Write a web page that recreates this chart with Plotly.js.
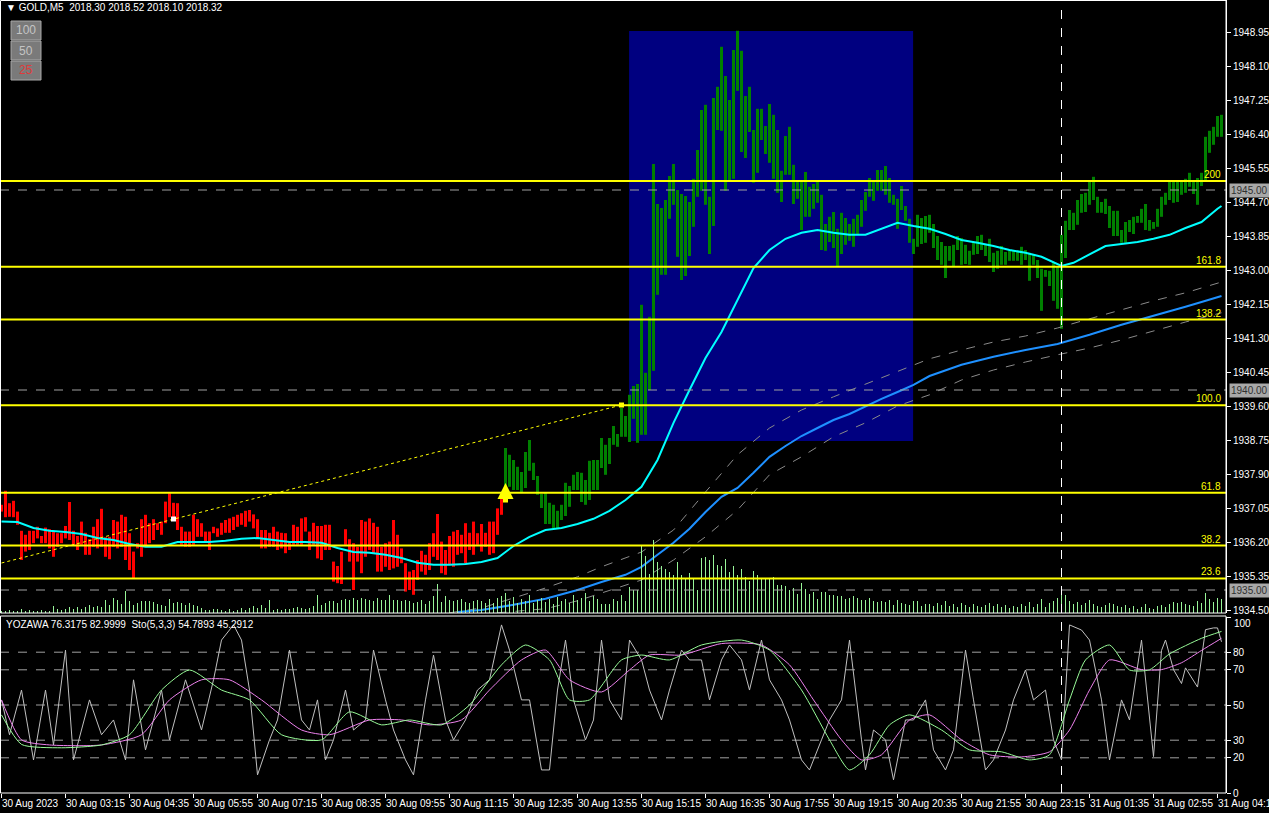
<!DOCTYPE html>
<html><head><meta charset="utf-8">
<script src="https://cdn.plot.ly/plotly-3.0.1.min.js"></script>
<style>html,body{margin:0;padding:0;background:#000;overflow:hidden}#chart{width:1269px;height:813px}</style>
</head><body><div id="chart"></div>
<script>
// ---------------- DATA ----------------
const timeTickIdx = [0,16,32,48,64,80,96,112,128,144,160,176,192,208,224,240,256,272,288,304];
const timeTickText = ["30 Aug 2023","30 Aug 03:15","30 Aug 04:35","30 Aug 05:55","30 Aug 07:15","30 Aug 08:35","30 Aug 09:55","30 Aug 11:15","30 Aug 12:35","30 Aug 13:55","30 Aug 15:15","30 Aug 16:35","30 Aug 17:55","30 Aug 19:15","30 Aug 20:35","30 Aug 21:55","30 Aug 23:15","31 Aug 01:35","31 Aug 02:55","31 Aug 04:15"];

const barHigh = [
1937.13,1937.48,1937.17,1937.23,1936.96,1936.48,1936.38,1936.48,1936.48,1936.58,
1936.35,1936.56,1936.52,1936.46,1936.42,1936.42,1936.60,1937.20,1936.48,1936.35,
1936.71,1936.43,1936.27,1936.58,1936.77,1937.03,1936.32,1936.33,1936.75,1936.71,
1936.88,1936.83,1936.42,1935.96,1936.17,1936.77,1936.88,1936.67,1936.77,1936.67,
1936.71,1937.21,1937.42,1937.18,1937.17,1936.58,1936.46,1936.46,1936.88,1936.77,
1936.67,1936.46,1936.46,1936.58,1936.54,1936.68,1936.75,1936.79,1936.83,1936.88,
1936.92,1936.98,1937.00,1936.89,1936.77,1936.50,1936.50,1936.43,1936.58,1936.46,
1936.43,1936.42,1936.21,1936.63,1936.58,1936.79,1936.82,1936.46,1936.68,1936.60,
1936.60,1936.63,1936.63,1935.71,1935.60,1935.96,1936.52,1936.27,1936.17,1936.08,
1936.75,1936.71,1936.79,1936.68,1936.58,1936.08,1936.17,1936.21,1936.75,1936.38,
1936.04,1935.67,1935.46,1935.50,1935.75,1935.98,1935.88,1936.17,1936.42,1936.90,
1936.21,1936.00,1936.35,1936.46,1936.50,1936.38,1936.67,1936.43,1936.71,1936.42,
1936.65,1936.43,1936.71,1936.71,1937.04,1937.33,
1938.55,1938.38,1938.25,1938.08,1937.95,1938.45,1938.75,1938.18,1937.85,1937.40,
1937.43,1937.18,1937.13,1936.98,1937.13,1937.68,1937.60,1937.88,1937.95,1937.93,
1937.75,1938.23,1938.25,1938.25,1938.80,1938.63,1938.80,1939.10,1938.90,1939.55,
1939.35,1939.88,1940.10,1940.15,1942.13,1940.43,1941.83,1945.65,1944.65,1944.55,
1944.75,1945.35,1945.65,1945.00,1944.90,1944.85,1944.70,1945.28,1946.00,1947.00,
1947.13,1944.83,1947.30,1947.58,1948.58,1947.85,1947.25,1948.50,1948.98,1948.48,
1947.35,1947.58,1946.50,1947.03,1947.03,1946.60,1947.15,1946.88,1946.50,1945.48,
1946.35,1946.58,1945.63,1945.23,1945.23,1945.45,1945.08,1945.15,1945.20,1944.88,
1944.15,1944.33,1944.45,1944.03,1944.43,1944.30,1944.15,1944.28,1944.38,1944.75,
1944.95,1945.30,1945.20,1945.50,1945.50,1945.60,1945.30,1944.88,1944.78,1945.10,
1944.60,1944.28,1943.78,1944.38,1944.30,1944.35,1944.38,1944.15,1943.85,1943.70,
1943.60,1943.60,1943.63,1943.85,1943.80,1943.63,1943.48,1943.70,1943.85,1943.88,
1943.65,1943.78,1943.43,1943.48,1943.60,1943.45,1943.48,1943.50,1943.48,1943.58,
1943.50,1943.43,1943.40,1943.25,1943.03,1943.00,1942.98,1943.20,1943.08,1943.88,
1944.23,1944.50,1944.43,1944.75,1944.90,1944.93,1945.23,1945.33,1944.83,1944.70,
1944.78,1944.60,1944.48,1944.48,1944.00,1944.20,1944.25,1944.33,1944.35,1944.53,
1944.65,1944.25,1944.20,1944.53,1944.83,1944.93,1945.20,1945.20,1945.25,1945.25,
1945.28,1945.43,1945.20,1945.30,1945.43,1946.33,1946.48,1946.58,1946.85,1946.88];

const barLow = [
1936.96,1936.82,1936.83,1936.82,1936.63,1935.75,1935.96,1936.00,1936.17,1936.29,
1936.17,1936.17,1936.04,1935.83,1936.08,1936.17,1936.29,1936.25,1936.13,1936.00,
1936.13,1935.88,1935.88,1936.08,1936.04,1936.08,1935.83,1935.77,1936.08,1936.04,
1936.08,1935.75,1935.50,1935.29,1936.04,1935.83,1936.08,1936.17,1936.25,1936.50,
1936.38,1936.67,1936.82,1936.75,1936.50,1936.13,1936.08,1936.08,1936.13,1936.33,
1936.33,1936.21,1936.00,1936.42,1936.33,1936.38,1936.43,1936.43,1936.50,1936.58,
1936.63,1936.58,1936.71,1936.54,1936.29,1936.04,1936.04,1936.08,1936.08,1936.00,
1936.04,1935.92,1936.00,1936.13,1936.13,1936.13,1936.46,1936.00,1936.13,1935.79,
1935.75,1936.00,1936.00,1935.21,1935.17,1935.15,1936.13,1935.71,1935.00,1935.71,
1935.42,1935.83,1936.00,1935.92,1935.46,1935.46,1935.58,1935.50,1935.54,1935.58,
1935.67,1934.96,1935.00,1934.88,1935.25,1935.46,1935.38,1935.50,1935.83,1935.75,
1935.42,1935.38,1935.63,1935.58,1935.88,1935.92,1935.67,1936.00,1935.88,1936.13,
1935.96,1936.08,1935.88,1935.92,1936.38,1936.88,
1937.58,1937.58,1937.50,1937.50,1937.45,1937.55,1937.98,1937.75,1937.38,1937.05,
1936.65,1936.65,1936.55,1936.55,1936.75,1936.85,1937.08,1937.50,1937.50,1937.20,
1937.13,1937.25,1937.50,1937.50,1938.05,1937.88,1938.15,1938.63,1938.58,1938.83,
1938.83,1938.70,1939.28,1938.68,1938.88,1938.88,1940.00,1940.48,1942.38,1942.88,
1942.88,1944.28,1944.63,1943.33,1942.75,1942.85,1943.35,1944.08,1944.83,1944.98,
1944.63,1943.40,1944.10,1946.50,1946.48,1944.98,1945.25,1945.28,1947.48,1945.95,
1945.80,1946.45,1945.18,1945.43,1946.25,1945.90,1945.68,1945.28,1944.93,1944.70,
1945.38,1945.38,1944.65,1944.78,1944.00,1944.33,1944.33,1944.53,1944.68,1943.50,
1943.48,1943.70,1943.55,1943.08,1943.40,1943.63,1943.73,1943.58,1943.88,1944.08,
1944.48,1944.83,1944.73,1944.98,1944.98,1944.88,1944.68,1944.63,1944.03,1944.50,
1944.23,1943.68,1943.40,1943.58,1943.65,1943.68,1943.93,1943.55,1943.25,1943.13,
1942.80,1943.23,1943.10,1943.50,1943.13,1943.15,1943.13,1943.38,1943.40,1943.50,
1943.35,1943.20,1942.95,1943.03,1943.13,1943.13,1943.23,1943.23,1943.23,1943.13,
1943.25,1942.73,1943.13,1942.80,1941.98,1942.83,1942.60,1942.23,1942.03,1941.53,
1943.30,1944.00,1944.00,1944.13,1944.43,1944.45,1944.63,1944.75,1944.43,1944.43,
1944.40,1944.05,1943.85,1943.85,1943.68,1943.68,1943.95,1943.90,1944.18,1944.18,
1944.00,1943.98,1944.03,1944.08,1944.33,1944.63,1944.75,1944.68,1944.70,1944.88,
1944.93,1945.08,1944.90,1944.63,1945.10,1945.25,1945.93,1946.13,1946.33,1946.33];

const signalIdx = 126;          // buy arrow bar: bars turn green from here
const signalPrice = 1937.675;

const volume = [
2,2,3,2,2,4,2,3,2,2,3,2,2,
7,4,3,4,6,4,6,4,6,8,
6,7,6,13,8,15,13,9,22,12,
8,10,12,12,12,11,9,8,7,14,
10,11,10,8,10,8,7,5,3,3,
4,4,3,2,4,2,3,5,3,5,
7,5,8,5,13,3,4,3,4,4,
5,6,5,4,5,7,18,8,10,12,
12,10,13,14,13,15,13,15,14,13,
12,15,13,13,18,13,13,12,13,12,
10,11,13,9,12,17,29,11,17,13,
12,13,14,11,10,12,13,12,10,14,
10,15,17,
20,12,16,10,14,12,18,10,13,15,
11,14,9,16,12,14,10,18,13,15,
20,12,17,14,
9,9,9,14,12,18,12,26,23,23,
67,57,39,73,51,47,44,41,38,51,
38,34,40,34,23,55,56,53,58,48,
47,54,41,47,38,44,36,32,42,38,
35,35,34,36,28,28,27,23,25,19,
30,24,19,21,14,21,21,18,18,17,
17,14,15,17,15,13,13,15,12,11,
12,11,13,8,13,10,9,8,12,12,
7,9,
9,7,10,8,12,7,9,6,10,8,
6,9,7,6,8,10,7,9,6,8,
5,7,6,9,7,11,6,9,14,6,
10,12,15,22,18,12,9,11,8,10,
13,9,7,6,8,10,9,7,6,8,
5,7,4,6,9,5,4,7,8,6,
9,11,10,11,9,8,7,12,10,20,
14,11,15,14];

const maFastIdx = [0,4,8,12,16,20,24,28,32,36,40,44,48,52,56,60,64,68,72,76,80,84,88,92,96,100,104,108,112,116,120,124,128,132,136,140,144,148,152,156,160,164,168,172,176,180,184,188,192,196,200,204,208,212,216,220,224,228,232,236,240,244,248,252,256,260,264,265,268,272,276,280,284,288,292,296,300,304,305];
const maFast = [1936.71,1936.70,1936.55,1936.48,1936.45,1936.40,1936.30,1936.25,1936.15,1936.08,1936.08,1936.20,1936.20,1936.20,1936.23,1936.28,1936.30,1936.25,1936.20,1936.20,1936.18,1936.05,1935.95,1935.93,1935.88,1935.80,1935.68,1935.63,1935.63,1935.65,1935.70,1935.80,1936.10,1936.33,1936.50,1936.55,1936.65,1936.78,1936.98,1937.25,1937.58,1938.25,1939.18,1940.00,1940.80,1941.45,1942.25,1943.05,1943.50,1943.78,1943.93,1944.00,1943.93,1943.88,1943.88,1944.03,1944.18,1944.10,1944.03,1943.90,1943.75,1943.68,1943.60,1943.50,1943.43,1943.33,1943.15,1943.10,1943.18,1943.40,1943.60,1943.65,1943.70,1943.78,1943.88,1944.05,1944.20,1944.53,1944.60];

const maSlowIdx = [114,120,128,136,144,150,156,160,164,168,172,176,180,184,188,192,196,200,204,208,212,216,220,224,228,232,240,248,256,264,272,280,288,296,300,305];
const maSlow = [1934.45,1934.50,1934.63,1934.78,1935.00,1935.20,1935.38,1935.58,1935.88,1936.18,1936.53,1936.95,1937.33,1937.55,1937.93,1938.33,1938.60,1938.85,1939.05,1939.25,1939.40,1939.60,1939.78,1939.95,1940.13,1940.35,1940.63,1940.83,1941.00,1941.15,1941.38,1941.63,1941.85,1942.08,1942.20,1942.35];

const envUpIdx = [112,120,128,136,144,150,160,168,176,184,192,200,208,216,224,232,240,248,256,264,272,280,288,296,305];
const envUp = [1934.43,1934.55,1934.80,1935.05,1935.33,1935.58,1935.95,1936.50,1937.45,1938.38,1939.05,1939.50,1939.83,1940.15,1940.48,1940.78,1941.00,1941.20,1941.35,1941.55,1941.78,1942.00,1942.23,1942.43,1942.70];
const envDnIdx = [124,136,144,150,160,168,176,184,192,200,208,216,224,232,240,248,256,264,272,280,288,296,305];
const envDn = [1934.43,1934.53,1934.73,1934.93,1935.25,1935.75,1936.33,1937.00,1937.88,1938.33,1938.83,1939.18,1939.60,1939.88,1940.25,1940.50,1940.70,1940.88,1941.05,1941.25,1941.48,1941.70,1941.93];

const fibLabels = ["200","161.8","138.2","100.0","61.8","38.2","23.6"];
const fibPrices = [1945.225,1943.08,1941.76,1939.62,1937.43,1936.11,1935.29];
const roundLevels = [1945.00,1940.00,1935.00];

const trendIdx = [0,43,155];
const trendPrice = [1935.675,1936.775,1939.625];

const boxIdx = [156.9,227.9];
const boxPrice = [1938.725,1948.975];
const crossIdx = 265;

const priceTicks = [1934.50,1935.35,1936.20,1937.05,1937.90,1938.75,1939.60,1940.45,1941.30,1942.15,1943.00,1943.85,1944.70,1945.55,1946.40,1947.25,1948.10,1948.95];
const stochTicks = [0,20,30,50,70,80,100];
const stochLevels = [20,30,50,70,80];

const yozIdx = [0,2,5,8,11,13,16,18,22,25,28,31,33,36,40,42,46,50,53,55,58,60,62,64,67,69,72,75,77,79,81,83,86,88,91,93,96,98,101,103,106,108,111,113,116,119,122,125,127,130,132,135,137,139,141,143,146,148,150,152,155,157,160,162,165,167,170,172,175,177,180,182,185,187,190,192,195,197,200,202,205,207,210,212,215,216,218,221,223,226,228,231,233,236,238,241,243,246,248,251,253,256,258,261,263,265,267,270,272,275,277,280,282,285,288,290,291,293,295,296,299,301,303,304,305];
const yozawa = [52.9,33.1,58.5,18.8,58.5,27.3,81.2,18.8,52.9,33.1,41.5,18.8,64.3,24.5,58.5,30.2,64.3,35.8,64.3,86.9,95.5,86.9,58.5,10.3,30.2,41.5,81.2,41.5,35.8,52.9,18.8,30.2,58.5,35.8,41.5,81.2,52.9,35.8,18.8,10.3,52.9,78.4,41.5,30.2,41.5,58.5,64.3,95.5,81.2,52.9,52.9,13.1,13.1,58.5,86.9,52.9,30.2,41.5,86.9,52.9,41.5,86.9,75.6,58.5,41.5,58.5,81.2,75.6,75.6,52.9,75.6,84.1,75.6,58.5,86.9,64.3,52.9,41.5,18.8,13.1,30.2,41.5,52.9,86.9,30.2,13.1,35.8,30.2,7.5,41.5,41.5,52.9,24.5,13.1,24.5,81.2,52.9,13.1,18.8,35.8,52.9,69.9,52.9,58.5,30.2,18.8,95.5,92.6,86.9,52.9,18.8,52.9,41.5,86.9,20.7,81.0,86.9,70.1,62.2,71.1,60.2,92.8,93.8,93.8,85.9];

const stoKIdx = [0,5,15,25,32,40,47,55,62,70,80,87,95,102,110,117,125,131,137,142,147,155,160,167,175,185,192,200,207,212,217,222,227,235,242,250,257,262,267,271,277,282,287,292,300,305];
const stoK = [44.4,27.6,25.7,27.3,33.1,58.5,69.9,58.5,52.9,33.1,30.2,46.1,38.7,41.5,38.7,50.0,72.8,84.1,75.6,52.9,52.9,75.6,78.4,75.6,84.1,86.9,81.2,58.5,30.2,13.1,21.7,38.7,44.4,35.8,24.5,23.4,18.8,21.7,52.9,75.6,84.1,69.9,70.0,79.0,87.9,91.8];
const stoDIdx = [0,5,12,25,35,42,50,57,65,75,82,92,100,107,115,122,130,136,142,150,157,162,170,180,190,197,203,210,215,220,227,232,240,247,255,262,267,272,277,285,290,295,300,305];
const stoD = [52.9,30.2,27.3,27.3,33.1,52.9,64.3,64.3,52.9,35.8,33.1,41.5,41.5,38.7,41.5,58.5,75.6,81.2,64.3,57.4,69.9,78.4,78.4,84.9,84.1,72.8,52.9,30.2,18.8,21.7,41.5,44.4,30.2,21.7,20.5,23.4,35.8,58.5,75.6,70.1,70.1,74.0,81.0,87.9];

// ---------------- LAYOUT HELPERS ----------------
const W = 1269, H = 813, M = {l:0, r:43, t:0, b:20};
const PW = W - M.l - M.r, PH = H - M.t - M.b;
const px = x => x / PW;
const py = y => 1 - y / PH;
const FONT = 'Liberation Sans, Arial, DejaVu Sans, sans-serif';

const n = barHigh.length;
const idx = Array.from({length:n}, (_, i) => i);
const barColors = idx.map(i => i < signalIdx ? '#ff0000' : '#008000');

const traces = [];
traces.push({type:'bar', x:idx, y:volume, xaxis:'x', yaxis:'y3', width:0.25,
  marker:{color:'#98f598', line:{width:0}}, hoverinfo:'skip'});
traces.push({type:'bar', x:idx, base:barLow, y:idx.map(i => barHigh[i]-barLow[i]), xaxis:'x', yaxis:'y',
  width:0.75, marker:{color:barColors, line:{width:0}}, hoverinfo:'skip'});
traces.push({type:'scatter', mode:'lines', x:envUpIdx, y:envUp, line:{color:'#8a8a8a', width:1, dash:'dash'}, hoverinfo:'skip'});
traces.push({type:'scatter', mode:'lines', x:envDnIdx, y:envDn, line:{color:'#8a8a8a', width:1, dash:'dash'}, hoverinfo:'skip'});
traces.push({type:'scatter', mode:'lines', x:maSlowIdx, y:maSlow, line:{color:'#1e90ff', width:2}, hoverinfo:'skip'});
traces.push({type:'scatter', mode:'lines', x:maFastIdx, y:maFast, line:{color:'#00ffff', width:2}, hoverinfo:'skip'});
traces.push({type:'scatter', mode:'lines', x:[trendIdx[0], trendIdx[2]], y:[trendPrice[0], trendPrice[2]],
  line:{color:'#ffff00', width:1, dash:'dot'}, hoverinfo:'skip'});
traces.push({type:'scatter', mode:'markers', x:[trendIdx[1]], y:[trendPrice[1]],
  marker:{symbol:'square', size:5, color:'#ffffff'}, hoverinfo:'skip'});
traces.push({type:'scatter', mode:'markers', x:[trendIdx[2]], y:[trendPrice[2]],
  marker:{symbol:'square', size:5, color:'#ffff00'}, hoverinfo:'skip'});
traces.push({type:'scatter', mode:'lines', x:yozIdx, y:yozawa, xaxis:'x', yaxis:'y2', line:{color:'#c0c0c0', width:1}, hoverinfo:'skip'});
traces.push({type:'scatter', mode:'lines', x:stoDIdx, y:stoD, xaxis:'x', yaxis:'y2', line:{color:'#ee82ee', width:1, shape:'spline', smoothing:0.6}, hoverinfo:'skip'});
traces.push({type:'scatter', mode:'lines', x:stoKIdx, y:stoK, xaxis:'x', yaxis:'y2', line:{color:'#98fb98', width:1, shape:'spline', smoothing:0.6}, hoverinfo:'skip'});

const shapes = [];
shapes.push({type:'rect', xref:'x', yref:'y', x0:boxIdx[0], x1:boxIdx[1], y0:boxPrice[0], y1:boxPrice[1],
  fillcolor:'#000080', line:{width:0}, layer:'below'});
fibPrices.forEach(p => shapes.push({type:'line', xref:'paper', yref:'y', x0:0, x1:1, y0:p, y1:p,
  line:{color:'#ffff00', width:2}, layer:'above'}));
roundLevels.forEach(p => shapes.push({type:'line', xref:'paper', yref:'y', x0:0, x1:1, y0:p, y1:p,
  line:{color:'#a0a0a0', width:1, dash:'dash'}, layer:'above'}));
stochLevels.forEach(v => shapes.push({type:'line', xref:'paper', yref:'y2', x0:0, x1:1, y0:v, y1:v,
  line:{color:'#a0a0a0', width:1, dash:'dash'}, layer:'below'}));
shapes.push({type:'line', xref:'x', yref:'paper', x0:crossIdx, x1:crossIdx, y0:0, y1:1,
  line:{color:'#ffffff', width:1, dash:'dash'}, layer:'above'});
// panel frames
shapes.push({type:'rect', xref:'paper', yref:'paper', x0:px(0.5), x1:1, y0:py(613), y1:py(0.5), line:{color:'#ffffff', width:1}, layer:'above'});
shapes.push({type:'rect', xref:'paper', yref:'paper', x0:px(0.5), x1:1, y0:0, y1:py(616), line:{color:'#ffffff', width:1}, layer:'above'});
// scale buttons
const btnY = [[21,40],[41,60],[61,80]];
btnY.forEach(b => {
  shapes.push({type:'rect', xref:'paper', yref:'paper', x0:px(11), x1:px(41), y0:py(b[1]), y1:py(b[0]),
    fillcolor:'#7a7a7a', line:{color:'#a8a8a8', width:1}, layer:'above'});
});

const ann = [];
ann.push({xref:'paper', yref:'paper', x:px(4), y:py(8), xanchor:'left', yanchor:'middle', showarrow:false,
  text:'\u25BC GOLD,M5  2018.30 2018.52 2018.10 2018.32', font:{family:FONT, size:10, color:'#ffffff'}});
[['100','#c4c4c4'],['50','#c4c4c4'],['25','#e03a3a']].forEach((t, k) => {
  ann.push({xref:'paper', yref:'paper', x:px(26), y:py((btnY[k][0]+btnY[k][1])/2), xanchor:'center', yanchor:'middle',
    showarrow:false, text:t[0], font:{family:FONT, size:12, color:t[1]}});
});
ann.push({xref:'paper', yref:'paper', x:px(4), y:py(624), xanchor:'left', yanchor:'middle', showarrow:false,
  text:'YOZAWA 76.3175 82.9999  Sto(5,3,3) 54.7893 45.2912', font:{family:FONT, size:10, color:'#ffffff'}});
fibLabels.forEach((t, k) => ann.push({xref:'paper', yref:'y', x:1, y:fibPrices[k], xanchor:'right', yanchor:'bottom',
  xshift:-3, yshift:-1, showarrow:false, text:t, font:{family:FONT, size:10, color:'#ffff00'}}));
roundLevels.forEach(p => ann.push({xref:'paper', yref:'y', x:1, y:p, xanchor:'left', yanchor:'middle', xshift:3,
  showarrow:false, text:p.toFixed(2), bgcolor:'#a8a8a8', borderpad:1, font:{family:FONT, size:10, color:'#303030'}}));
timeTickIdx.forEach((i, k) => ann.push({xref:'x', yref:'paper', x:i, y:0, xanchor:'left', yanchor:'top', xshift:-2, yshift:-3,
  showarrow:false, text:timeTickText[k], font:{family:FONT, size:10, color:'#ffffff'}}));
// stochastic "100" label drawn inside the panel (as MT4 clamps it)
ann.push({xref:'paper', yref:'y2', x:1, y:100, xanchor:'left', yanchor:'top', xshift:6, yshift:1,
  showarrow:false, text:'100', font:{family:FONT, size:10, color:'#ffffff'}});
// buy-signal arrow: thick stem + wide head
ann.push({xref:'x', yref:'y', x:signalIdx, y:signalPrice, ax:0, ay:21, axref:'pixel', ayref:'pixel', showarrow:true,
  arrowhead:0, arrowwidth:5, standoff:8, arrowcolor:'#ffff00', text:''});
ann.push({xref:'x', yref:'y', x:signalIdx, y:signalPrice, ax:0, ay:9, axref:'pixel', ayref:'pixel', showarrow:true,
  arrowhead:2, arrowsize:1.6, arrowwidth:2, arrowcolor:'#ffff00', text:''});

const layout = {
  width:W, height:H, margin:M, paper_bgcolor:'#000000', plot_bgcolor:'#000000',
  showlegend:false, barmode:'overlay', hovermode:false,
  font:{family:FONT, size:10, color:'#ffffff'},
  xaxis:{range:[-0.375, 306.125], anchor:'y2', showgrid:false, zeroline:false, showline:false,
    tickmode:'array', tickvals:timeTickIdx, ticks:'outside', ticklen:4, tickcolor:'#ffffff', showticklabels:false},
  yaxis:{domain:[py(613), 1], range:[1934.425, 1949.75], side:'right', anchor:'x', showgrid:false, zeroline:false,
    showline:true, linecolor:'#ffffff', tickmode:'array', tickvals:priceTicks, ticktext:priceTicks.map(v => v.toFixed(2)),
    ticks:'outside', ticklen:4, tickcolor:'#ffffff', tickfont:{family:FONT, size:10, color:'#ffffff'}},
  yaxis2:{domain:[0, py(617)], range:[0, 100], side:'right', anchor:'x', showgrid:false, zeroline:false,
    showline:true, linecolor:'#ffffff', tickmode:'array', tickvals:stochTicks,
    ticktext:stochTicks.map(v => v === 100 ? '' : String(v)), ticks:'outside', ticklen:4,
    tickcolor:'#ffffff', tickfont:{family:FONT, size:10, color:'#ffffff'}},
  yaxis3:{overlaying:'y', range:[0, 613], visible:false, showgrid:false, zeroline:false},
  shapes:shapes, annotations:ann
};

Plotly.newPlot('chart', traces, layout, {staticPlot:true, displayModeBar:false});
</script></body></html>
